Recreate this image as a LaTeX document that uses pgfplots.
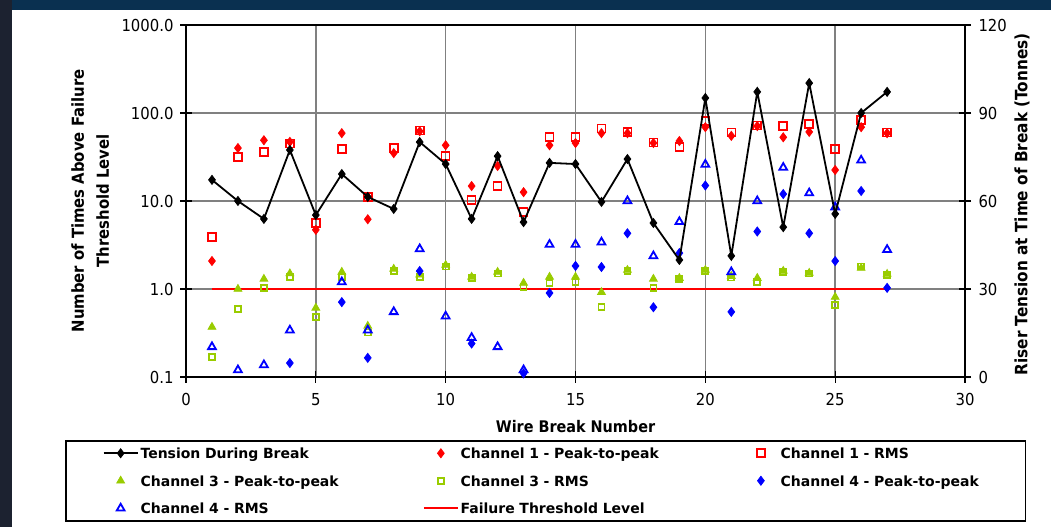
\documentclass[border=0pt]{standalone}
\usepackage{fontspec}
\usepackage{pgfplots}
\pgfplotsset{compat=1.18}
\newfontfamily\cf{DejaVu Sans Condensed}
\newfontfamily\lf{DejaVu Sans}
\definecolor{navy}{RGB}{10,48,80}
\definecolor{lband}{RGB}{28,34,48}
\definecolor{cgreen}{RGB}{153,204,0}
\definecolor{gridgray}{RGB}{128,128,128}
\pgfplotsset{
 lic/.style={legend image code/.code={\path (0pt,0pt) (34pt,0pt); \draw[mark repeat=2,mark phase=2,##1] plot coordinates {(0pt,0pt) (17pt,0pt) (34pt,0pt)};}},
 tens/.style={black, line width=1.8pt, mark=diamond*, mark size=4.5pt, mark options={solid, line width=0.8pt}, lic},
 c1p/.style={only marks, red, mark=diamond*, mark size=4.5pt, mark options={line width=0.8pt}, lic},
 c1r/.style={only marks, red, mark=square, mark size=4pt, mark options={line width=1.6pt}, lic},
 c3p/.style={only marks, cgreen, mark=triangle*, mark size=4.5pt, mark options={line width=0.8pt}, lic},
 c3r/.style={only marks, cgreen, mark=square, mark size=3pt, mark options={line width=1.8pt}, lic},
 c4p/.style={only marks, blue, mark=diamond*, mark size=4.5pt, mark options={line width=0.8pt}, lic},
 c4r/.style={only marks, blue, mark=triangle, mark size=4.5pt, mark options={line width=1.8pt}, lic},
 thr/.style={red, line width=1.6pt, no marks, lic},
}
\begin{document}
\begin{tikzpicture}
\path[use as bounding box] (0,0) rectangle (1051pt,527pt);
\fill[white] (0,0) rectangle (1051pt,527pt);
\fill[navy] (0,517pt) rectangle (1051pt,527pt);
\fill[lband] (0,0) rectangle (12pt,527pt);
\begin{axis}[
 at={(186pt,150pt)}, anchor=south west,
 width=779pt, height=352pt, scale only axis,
 xmin=0, xmax=30, ymode=log, ymin=0.1, ymax=1000,
 xtick={0,5,...,30}, ytick={0.1,1,10,100,1000},
 yticklabels={0.1,1.0,10.0,100.0,1000.0},
 yminorticks=false,
 xtick pos=left, ytick pos=left,
 tick align=center, major tick length=12pt,
 axis line style={black, line width=1.3pt},
 every tick/.style={black, line width=1.3pt},
 grid=major, major grid style={gridgray, line width=1.5pt},
 /pgf/number format/assume math mode=true,
 tick label style={font=\cf\fontsize{16.5}{18}\selectfont},
 xticklabel style={yshift=-7pt},
 yticklabel style={xshift=-3pt},
 xlabel={Wire Break Number},
 xlabel style={at={(axis description cs:0.5,-0.142)}, anchor=center, font=\cf\bfseries\fontsize{16}{19}\selectfont},
 ylabel={Number of Times Above Failure\\Threshold Level},
 ylabel style={at={(axis description cs:-0.123,0.5)}, anchor=center, align=center, font=\cf\bfseries\fontsize{16.5}{25}\selectfont},
 legend columns=3,
 legend cell align=left,
 legend style={at={(axis description cs:-0.1553,-0.179)}, anchor=north west,
   draw=black, line width=1.5pt, inner xsep=37pt, inner ysep=4pt, row sep=10.5pt,
   font=\lf\bfseries\fontsize{14}{16}\selectfont,
   nodes={inner xsep=2pt, inner ysep=0pt, text height=14pt, text depth=3pt, text width=270pt, align=left},
   /tikz/every even column/.append style={column sep=10.5pt},
   /tikz/column 6/.style={nodes={text width=206pt}}},
]
\addlegendimage{tens}
\addlegendentry{Tension During Break}
\addplot[c1p] coordinates {(1,2.08) (2,40) (3,49) (4,47) (5,4.7) (6,59) (7,6.2) (8,35) (9,62) (10,43) (11,14.8) (12,25) (13,12.6) (14,43) (15,45.6) (16,59) (17,59) (18,45.6) (19,48) (20,69) (21,55) (22,71) (23,53) (24,61) (25,22.5) (26,69) (27,59)};
\addlegendentry{Channel 1 - Peak-to-peak}
\addplot[c1r] coordinates {(1,3.9) (2,31.6) (3,36) (4,45) (5,5.6) (6,39) (7,11.1) (8,40) (9,63) (10,32.5) (11,10.2) (12,14.8) (13,7.5) (14,53) (15,53) (16,67) (17,61) (18,46) (19,41) (20,81) (21,60) (22,72) (23,71) (24,75) (25,39) (26,83) (27,60)};
\addlegendentry{Channel 1 - RMS}
\addplot[c3p] coordinates {(1,0.37) (2,1.0) (3,1.3) (4,1.5) (5,0.61) (6,1.56) (7,0.38) (8,1.69) (9,1.45) (10,1.87) (11,1.37) (12,1.56) (13,1.17) (14,1.37) (15,1.37) (16,0.92) (17,1.64) (18,1.3) (19,1.33) (20,1.64) (21,1.4) (22,1.33) (23,1.6) (24,1.52) (25,0.81) (26,1.73) (27,1.48)};
\addlegendentry{Channel 3 - Peak-to-peak}
\addplot[c3r] coordinates {(1,0.17) (2,0.59) (3,1.03) (4,1.37) (5,0.48) (6,1.37) (7,0.32) (8,1.6) (9,1.37) (10,1.8) (11,1.33) (12,1.5) (13,1.05) (14,1.17) (15,1.2) (16,0.62) (17,1.6) (18,1.03) (19,1.3) (20,1.6) (21,1.35) (22,1.2) (23,1.55) (24,1.5) (25,0.66) (26,1.8) (27,1.45)};
\addlegendentry{Channel 3 - RMS}
\addplot[c4p] coordinates {(4,0.144) (6,0.71) (7,0.165) (9,1.6) (11,0.24) (13,0.11) (14,0.9) (15,1.83) (16,1.78) (17,4.3) (18,0.62) (19,2.56) (20,15) (21,0.55) (22,4.5) (23,12) (24,4.3) (25,2.08) (26,13) (27,1.03)};
\addlegendentry{Channel 4 - Peak-to-peak}
\addplot[c4r] coordinates {(1,0.22) (2,0.12) (3,0.137) (4,0.34) (6,1.2) (7,0.34) (8,0.55) (9,2.85) (10,0.49) (11,0.28) (12,0.22) (13,0.12) (14,3.2) (15,3.2) (16,3.4) (17,10) (18,2.37) (19,5.8) (20,26) (21,1.56) (22,10) (23,24) (24,12.3) (25,8.5) (26,29) (27,2.8)};
\addlegendentry{Channel 4 - RMS}
\addplot[thr] coordinates {(1,1) (27,1)};
\addlegendentry{Failure Threshold Level}
\end{axis}
\begin{axis}[
 at={(186pt,150pt)}, anchor=south west,
 width=779pt, height=352pt, scale only axis,
 xmin=0, xmax=30, ymin=0, ymax=120,
 axis x line=none, axis y line*=right,
 axis line style={-, black, line width=1.3pt},
 every tick/.style={black, line width=1.3pt},
 tick align=center, major tick length=12pt,
 ytick={0,30,60,90,120},
 /pgf/number format/assume math mode=true,
 tick label style={font=\cf\fontsize{16.5}{18}\selectfont},
 yticklabel style={xshift=4pt},
 ylabel={Riser Tension at Time of Break (Tonnes)},
 ylabel style={at={(axis description cs:1.0732,0.49)}, anchor=center, rotate=0, font=\cf\bfseries\fontsize{17}{19}\selectfont},
]
\addplot[tens] coordinates {(1,67.2) (2,60.0) (3,53.9) (4,77.4) (5,55.2) (6,69.2) (7,61.4) (8,57.3) (9,80.1) (10,72.6) (11,53.9) (12,75.3) (13,52.8) (14,73.0) (15,72.6) (16,59.7) (17,74.3) (18,52.5) (19,39.9) (20,95.1) (21,41.3) (22,97.2) (23,51.1) (24,100.2) (25,55.6) (26,90.0) (27,97.2)};
\end{axis}
\end{tikzpicture}
\end{document}
